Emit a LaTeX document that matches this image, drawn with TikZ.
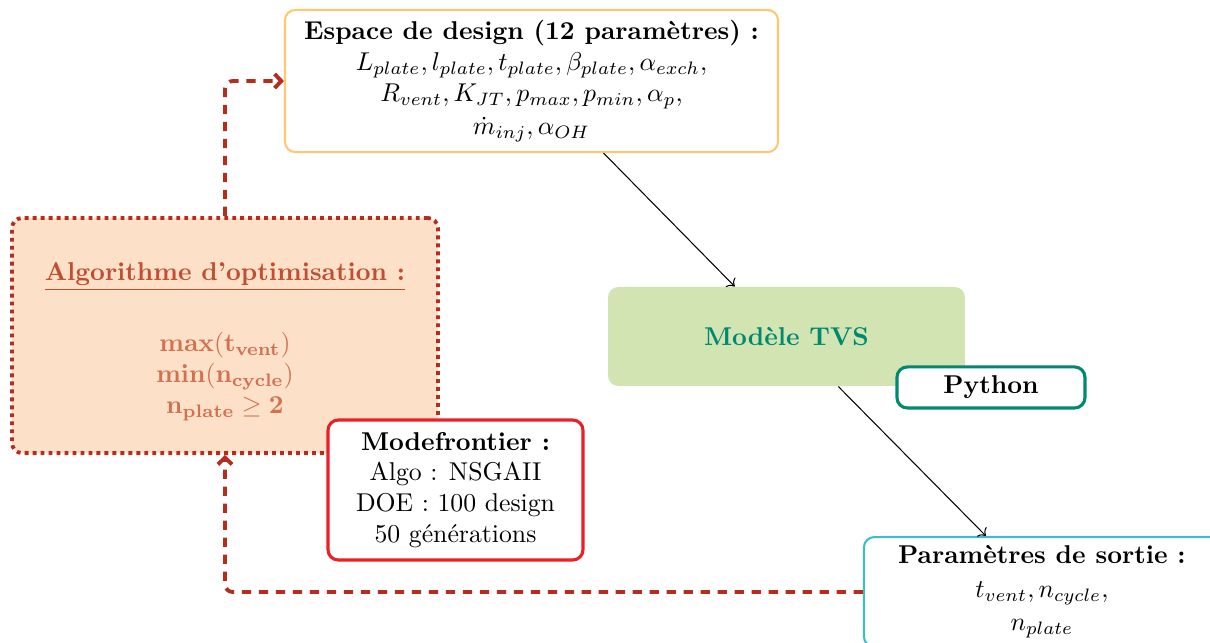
\documentclass[tikz,border=0pt]{standalone}
\usepackage{amsmath}
\usepackage{amssymb}
\usepackage{tikz}
\usepackage{xcolor}
\usetikzlibrary{arrows.meta}
\definecolor{designorange}{RGB}{255,200,112}
\definecolor{algofill}{RGB}{252,224,200}
\definecolor{algotitle}{RGB}{192,78,48}
\definecolor{algotext}{RGB}{210,112,80}
\definecolor{loopred}{RGB}{180,45,30}
\definecolor{tvsgreen}{RGB}{209,228,178}
\definecolor{tvsteal}{RGB}{0,136,112}
\definecolor{modered}{RGB}{236,30,40}
\definecolor{outcyan}{RGB}{60,190,200}

\begin{document}
\begin{tikzpicture}[
    box/.style={rounded corners=4pt,align=center,inner sep=2pt},
    loop/.style={loopred,line width=1.5pt,dash pattern=on 3.6pt off 3pt,
                 rounded corners=3pt,-{Straight Barb[length=2.6pt,width=5.5pt]}},
    flow/.style={->,black,thin}]
        \useasboundingbox (0,0) rectangle (16.517,8.777);

        % design space
        \node[box,draw=designorange,line width=0.8pt,fill=white,
              minimum width=6.73cm,minimum height=1.94cm] (design) at (7.255,7.671)
            {\textbf{Espace de design (12 paramètres) :}\\
             $L_{plate},l_{plate},t_{plate},\beta_{plate},\alpha_{exch},$\\
             $R_{vent},K_{JT},p_{max},p_{min},\alpha_p,$\\[1pt]
             $\dot{m}_{inj},\alpha_{OH}$};

        % optimisation algorithm
        \node[box,draw=loopred,fill=algofill,line width=1.5pt,
              dash pattern=on 1.5pt off 1.6pt,
              minimum width=5.815cm,minimum height=3.21cm] (algo) at (3.071,4.197)
            {\rule{0pt}{12pt}\textcolor{algotitle}{\underline{\textbf{Algorithme d'optimisation :}}}\\[5.5mm]
             \textcolor{algotext}{$\mathbf{max}(\mathbf{t}_{\mathbf{vent}})$}\\
             \textcolor{algotext}{$\mathbf{min}(\mathbf{n}_{\mathbf{cycle}})$}\\
             \textcolor{algotext}{$\mathbf{n}_{\mathbf{plate}}\geq\mathbf{2}$}};

        % model
        \node[box,fill=tvsgreen,minimum width=4.873cm,minimum height=1.351cm]
            (tvs) at (10.736,4.184) {\textcolor{tvsteal}{\textbf{Modèle TVS}}};
        \node[box,draw=tvsteal,fill=white,line width=1.2pt,
              minimum width=2.566cm,minimum height=0.56cm] (python) at (13.527,3.488)
            {\textbf{Python}};

        % modefrontier
        \node[box,draw=modered,fill=white,line width=1.2pt,
              minimum width=3.481cm,minimum height=1.911cm] (mf) at (6.218,2.088)
            {\textbf{Modefrontier :}\\ Algo : NSGAII\\ DOE : 100 design\\ 50 générations};

        % outputs
        \node[box,draw=outcyan,fill=white,line width=0.8pt,
              minimum width=4.86cm,minimum height=1.5cm] (output) at (14.223,0.696)
            {\textbf{Paramètres de sortie :}\\[1pt]
             $t_{vent},n_{cycle},$\\[1pt]
             $n_{plate}$};

        % flow
        \draw[flow] (design.-45) -- (tvs.136);
        \draw[flow] (tvs.-44) -- (output.135.5);

        % optimisation loop
        \draw[loop] (output.west) -| (algo.south);
        \draw[loop] (algo.north) |- (design.west);
    \end{tikzpicture}
\end{document}
